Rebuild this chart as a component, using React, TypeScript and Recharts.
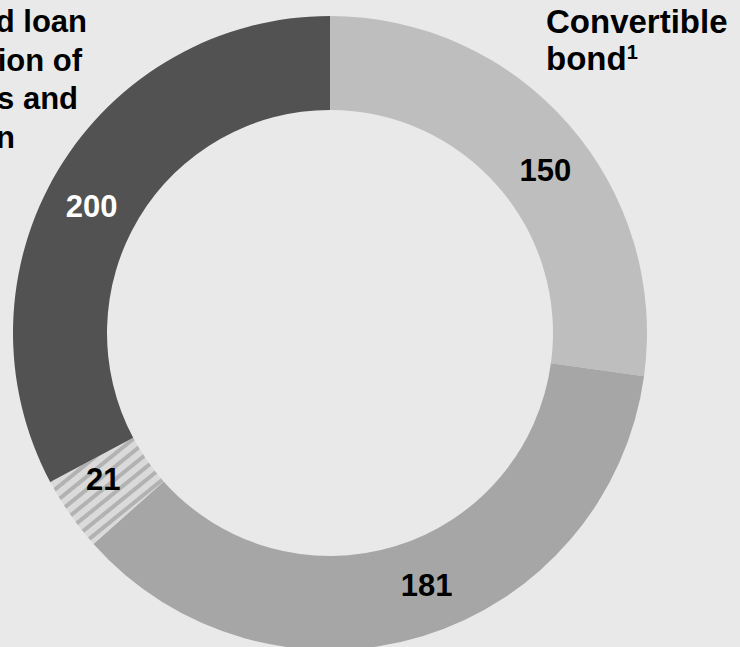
import { PieChart, Pie, Cell } from "recharts";

// slice sizes as drawn (clockwise from 12 o'clock)
const sliceValues = [150, 200, 21, 181];
// numbers printed on the slices
const sliceLabels = ["150", "181", "21", "200"];
const sliceFills = ["#bebebe", "#a6a6a6", "url(#stripes)", "#525252"];
const labelColors = ["#000", "#000", "#000", "#fff"];
// small nudges (degrees, clockwise) so labels sit where the original put them
const labelShift = [4, -4, 2, -3];

const leftLines = ["d loan", "ion of", "s and", "n"];
const leftRightEdges = [87, 82, 78, 15];

const W = 740;
const H = 647;
const RAD = Math.PI / 180;

const chartData = sliceValues.map((v, i) => ({ name: sliceLabels[i], value: v }));

function renderLabel(props: any) {
  const { cx, cy, midAngle, innerRadius, outerRadius, index } = props;
  const i = index ?? 0;
  const r = (innerRadius + outerRadius) / 2;
  const a = (midAngle - labelShift[i]) * RAD;
  const x = cx + r * Math.cos(-a);
  const y = cy + r * Math.sin(-a);
  return (
    <text
      x={x}
      y={y}
      textAnchor="middle"
      dominantBaseline="central"
      fill={labelColors[i]}
      fontSize={31}
      fontWeight="bold"
      fontFamily="'Liberation Sans', Arial, sans-serif"
    >
      {sliceLabels[i]}
    </text>
  );
}

export default function App() {
  return (
    <div style={{ position: "relative", width: W, height: H, background: "#e9e9e9", overflow: "hidden" }}>
      <style>{"body{margin:0}"}</style>
      <PieChart width={W} height={H} margin={{ top: 0, right: 0, bottom: 0, left: 0 }}>
        <defs>
          <pattern
            id="stripes"
            patternUnits="userSpaceOnUse"
            width={10}
            height={10}
            patternTransform="rotate(-39)"
          >
            <rect x={0} y={0} width={10} height={10} fill="#dadada" />
            <rect x={0} y={3} width={10} height={4} fill="#b2b2b2" />
          </pattern>
        </defs>
        <Pie
          data={chartData}
          dataKey="value"
          cx={330}
          cy={333}
          innerRadius={223}
          outerRadius={317}
          startAngle={90}
          endAngle={-270}
          stroke="none"
          labelLine={false}
          label={renderLabel}
          isAnimationActive={false}
        >
          {chartData.map((_, i) => (
            <Cell key={i} fill={sliceFills[i]} />
          ))}
        </Pie>
      </PieChart>
      <svg
        width={W}
        height={H}
        style={{ position: "absolute", left: 0, top: 0, pointerEvents: "none" }}
        fontFamily="'Liberation Sans', Arial, sans-serif"
        fontWeight="bold"
      >
        {leftLines.map((t, i) => (
          <text key={t} x={leftRightEdges[i]} y={32 + i * 38.7} textAnchor="end" fontSize={31} fill="#000">
            {t}
          </text>
        ))}
        <text x={546} y={33} fontSize={33} fill="#000">
          Convertible
        </text>
        <text x={546} y={70} fontSize={33} fill="#000">
          bond
          <tspan fontSize={20} dy={-11}>1</tspan>
        </text>
      </svg>
    </div>
  );
}
